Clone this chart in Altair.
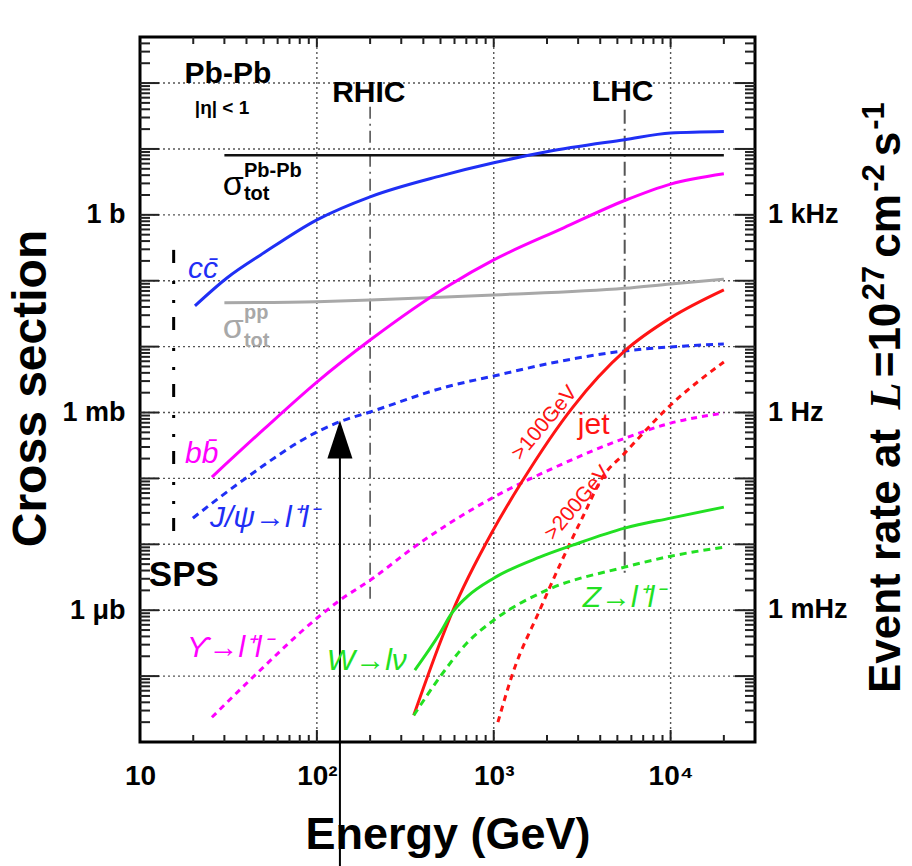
import altair as alt
import pandas as pd

# Plot-area size in pixels
W, H = 615, 705

# ---- curves: collision energy (GeV) and cross section (barn) ----
cc_E = [20.45, 31.0, 50.2, 100, 200, 502, 1000, 1992, 5500, 10000, 20000]
cc_sig = [0.0415, 0.110, 0.265, 0.84, 1.88, 3.91, 6.17, 9.06, 13.8, 17.4, 18.4]

pbpb_E = [30, 20000]
pbpb_sig = [8.0, 8.0]

pp_E = [30, 100, 200, 495, 1000, 5500, 10000, 20000]
pp_sig = [0.0465, 0.0482, 0.0511, 0.0562, 0.061, 0.077, 0.0895, 0.1055]

bb_E = [25.5, 50.2, 100, 200, 564, 1000, 2486, 5500, 10000, 20000]
bb_sig = [1.05e-4, 5.6e-4, 2.9e-3, 0.0126, 0.0864, 0.207, 0.635, 1.65, 2.93, 4.2]

jpsi_E = [19.9, 38.2, 100, 135, 200, 564, 1000, 1992, 5500, 10000, 20000]
jpsi_sig = [2.5e-5, 9.4e-5, 5.05e-4, 7.25e-4, 1.02e-3, 2.53e-3, 3.58e-3, 5.45e-3,
            8.6e-3, 9.9e-3, 0.011]

ups_E = [25.5, 45.8, 100, 135, 200, 367, 564, 1000, 1992, 5500, 10000, 20000]
ups_sig = [2.37e-8, 1.1e-7, 7.55e-7, 1.42e-6, 2.85e-6, 9.7e-6, 2.1e-5, 5.2e-5,
           1.29e-4, 4.06e-4, 6.9e-4, 9.8e-4]

jet100_E = [353, 495, 579, 1000, 1439, 2795, 5500, 10000, 20000]
jet100_sig = [2.54e-8, 3.12e-7, 9.0e-7, 1.7e-5, 8.8e-5, 1.2e-3, 8.6e-3, 0.0273, 0.0726]

jet200_E = [1056, 1280, 1819, 2360, 3184, 4130, 5500, 10000, 20000]
jet200_sig = [2.0e-8, 1.1e-7, 1.0e-6, 4.8e-6, 2.6e-5, 1.05e-4, 2.42e-4, 1.3e-3, 5.85e-3]

w_E = [358, 495, 579, 703, 1000, 1819, 2795, 5500, 10000, 20000]
w_sig = [1.23e-7, 4.42e-7, 9.0e-7, 1.58e-6, 3.06e-6, 6.38e-6, 9.7e-6, 1.76e-5, 2.5e-5, 3.67e-5]

z_E = [353, 495, 703, 1000, 1992, 5500, 10000, 20000]
z_sig = [2.54e-8, 9.6e-8, 3.15e-7, 7.05e-7, 2.01e-6, 4.5e-6, 6.6e-6, 9.05e-6]

# Accelerator energies (GeV) and the span of their marker lines (barn)
acc_names = ["SPS", "RHIC", "LHC"]
acc_E = [15.5, 200, 5500]
acc_top = [0.294, 43.7, 39.4]
acc_bottom = [8.7e-6, 1.42e-6, 3.4e-6]

# Energy pointed at by the arrow and the curve value it reaches
arrow_E = [135]
arrow_sig = [3.89e-4]

# Right-hand scale: event rate at L = 1e27 cm^-2 s^-1 (1 b -> 1 kHz)
rate_sig = [1, 1e-3, 1e-6]
rate_text = ["1 kHz", "1 Hz", "1 mHz"]

FONT = "Liberation Sans"
BLUE, MAGENTA, RED, GREEN, GREY = "#1f2ff5", "#ff00ff", "#ff1414", "#22e022", "#a8a8a8"

xs = alt.Scale(type="log", domain=[10, 30000], nice=False)
ys = alt.Scale(type="log", domain=[1e-8, 500], nice=False)

# Identical axis definitions are given to every layer so that they merge into one
x_axis = alt.Axis(
    orient="bottom", values=[10, 100, 1000, 10000],
    labelExpr="datum.value < 50 ? '10' : datum.value < 500 ? '10²' : datum.value < 5000 ? '10³' : '10⁴'",
    ticks=False, tickSize=0, domain=False, grid=False, labelFlush=False, labelOverlap=False,
    labelPadding=20, labelFont=FONT, labelFontSize=28, labelFontWeight="bold",
    labelColor="black", labelBaseline="top",
    title="Energy (GeV)", titleFont=FONT, titleFontSize=45, titleFontWeight="bold",
    titleColor="black", titleY=106, titleBaseline="alphabetic")

y_axis = alt.Axis(
    orient="left", values=[1, 1e-3, 1e-6],
    labelExpr="datum.value > 0.5 ? '1 b' : datum.value > 5e-4 ? '1 mb' : '1 μb'",
    ticks=False, tickSize=0, domain=False, grid=False, labelOverlap=False,
    labelPadding=15, labelFont=FONT, labelFontSize=27, labelFontWeight="bold",
    labelColor="black", labelBaseline="middle",
    title="Cross section", titleFont=FONT, titleFontSize=48, titleFontWeight="bold",
    titleColor="black", titleAngle=270, titleX=-95, titleY=351,
    titleBaseline="alphabetic", titleAlign="center")


def X(field):
    return alt.X(field, type="quantitative", scale=xs, axis=x_axis)


def Y(field):
    return alt.Y(field, type="quantitative", scale=ys, axis=y_axis)


def curve(E, sig, color, width=3, dash=None):
    kw = dict(interpolate="monotone", color=color, strokeWidth=width, strokeCap="butt")
    if dash:
        kw["strokeDash"] = dash
    return alt.Chart(pd.DataFrame({"E": E, "sig": sig})).mark_line(**kw).encode(
        x=X("E"), y=Y("sig"))


def labels(rows, **mark_kw):
    df = pd.DataFrame(rows, columns=["E", "sig", "t"])
    return alt.Chart(df).mark_text(font=FONT, **mark_kw).encode(
        x=X("E"), y=Y("sig"), text="t:N")


def y_ticks(vals, x0, x1):
    return alt.Chart(pd.DataFrame({"v": vals})).mark_rule(color="#222", strokeWidth=2).encode(
        y=Y("v"), x=alt.value(x0), x2=alt.value(x1))


def x_ticks(vals, y0, y1):
    return alt.Chart(pd.DataFrame({"v": vals})).mark_rule(color="#222", strokeWidth=2).encode(
        x=X("v"), y=alt.value(y0), y2=alt.value(y1))


# decade gridlines and minor log ticks
y_major = [10.0 ** k for k in range(-7, 3)]
y_minor = [m * 10.0 ** k for k in range(-8, 3) for m in range(2, 10) if m * 10.0 ** k < 500]
x_major = [100, 1000, 10000]
x_minor = [m * 10 ** k for k in range(1, 5) for m in range(2, 10) if m * 10 ** k < 30000]

grid_y = alt.Chart(pd.DataFrame({"v": y_major})).mark_rule(
    color="#555", strokeWidth=1.4, strokeDash=[2, 3]).encode(y=Y("v"))
grid_x = alt.Chart(pd.DataFrame({"v": x_major})).mark_rule(
    color="#555", strokeWidth=1.4, strokeDash=[2, 3]).encode(x=X("v"))

acc = pd.DataFrame({"name": acc_names, "E": acc_E, "top": acc_top, "bottom": acc_bottom})


def acc_line(name, color, width, dash):
    return alt.Chart(acc[acc["name"] == name]).mark_rule(
        color=color, strokeWidth=width, strokeDash=dash).encode(
        x=X("E"), y=Y("top"), y2="bottom:Q")


sps = acc_line("SPS", "black", 3, [13, 18, 3, 16, 3, 14])
rhic = acc_line("RHIC", "#555", 1.6, [12, 5, 2, 5])
lhc = acc_line("LHC", "#555", 2, [14, 5, 2, 5])

arrow_df = pd.DataFrame({"E": arrow_E, "sig": arrow_sig})
arrow_shaft = alt.Chart(arrow_df).mark_rule(color="black", strokeWidth=2).encode(
    x=X("E"), y=Y("sig"), y2=alt.value(H + 140))
arrow_head = alt.Chart(arrow_df).mark_point(
    shape="M0,-1L0.66,1L-0.66,1Z", size=1444, filled=True, color="black", opacity=1).encode(
    x=X("E"), y=Y("sig"))

curves = [
    curve(pp_E, pp_sig, GREY, 3),
    curve(pbpb_E, pbpb_sig, "#111", 2.5),
    curve(cc_E, cc_sig, BLUE, 3),
    curve(bb_E, bb_sig, MAGENTA, 3),
    curve(jpsi_E, jpsi_sig, BLUE, 3, [7, 5]),
    curve(ups_E, ups_sig, MAGENTA, 3, [6, 5]),
    curve(jet100_E, jet100_sig, RED, 3),
    curve(jet200_E, jet200_sig, RED, 3, [6, 5]),
    curve(w_E, w_sig, GREEN, 3),
    curve(z_E, z_sig, GREEN, 3, [7, 5]),
]

texts = [
    labels([(31.4, 138.7, "Pb-Pb"), (196.7, 71.3, "RHIC"), (5356, 73.9, "LHC")],
           fontSize=30, fontWeight="bold", color="black", align="center", baseline="middle"),
    labels([(17.7, 3.4e-6, "SPS")], fontSize=35, fontWeight="bold", color="black",
           align="center", baseline="middle"),
    labels([(29.1, 42.2, "|η| < 1")], fontSize=19, fontWeight="bold", color="black",
           align="center", baseline="middle"),
    # total cross sections: sigma with sub- and superscripts
    labels([(29.4, 2.013, "σ")], fontSize=34, color="black", align="left", baseline="alphabetic"),
    labels([(38.7, 1.69, "tot"), (38.7, 3.78, "Pb-Pb")], fontSize=20, fontWeight="bold",
           color="black", align="left", baseline="alphabetic"),
    labels([(29.4, 0.01353, "σ")], fontSize=34, color=GREY, align="left", baseline="alphabetic"),
    labels([(38.7, 0.0263, "pp"), (38.7, 0.00988, "tot")], fontSize=20, fontWeight="bold",
           color=GREY, align="left", baseline="alphabetic"),
    labels([(18.67, 0.1104, "cc\u0304"), (24.86, 1.822e-5, "J/ψ→l⁺l⁻")], fontSize=30,
           fontStyle="italic", color=BLUE, align="left", baseline="alphabetic"),
    labels([(17.96, 1.709e-4, "bb\u0304"), (18.43, 1.93e-7, "ϒ→l⁺l⁻")], fontSize=30,
           fontStyle="italic", color=MAGENTA, align="left", baseline="alphabetic"),
    labels([(113.9, 1.226e-7, "W→lν"), (3183, 1.11e-6, "Z→l⁺l⁻")], fontSize=30,
           fontStyle="italic", color=GREEN, align="left", baseline="alphabetic"),
    labels([(3673, 6.45e-4, "jet")], fontSize=30, color=RED, align="center", baseline="middle"),
    labels([(1941, 6.92e-4, ">100GeV"), (2983, 4.22e-5, ">200GeV")], fontSize=21, color=RED,
           align="center", baseline="middle", angle=310),
]

# right-hand rate scale labels
rate_labels = alt.Chart(pd.DataFrame({"sig": rate_sig, "t": rate_text})).mark_text(
    font=FONT, fontSize=27, fontWeight="bold", color="black", align="left", baseline="middle").encode(
    y=Y("sig"), x=alt.value(W + 13), text="t:N")


# right-hand axis title, set piece by piece so the exponents can be raised
def vtext(txt, xpos, ypos, size, font=FONT, **kw):
    return alt.Chart(pd.DataFrame({"t": [txt]})).mark_text(
        font=font, fontSize=size, fontWeight="bold", color="black", angle=270,
        align="center", baseline="alphabetic", **kw).encode(
        x=alt.value(xpos), y=alt.value(ypos - 37), text="t:N")


BASE_X, SUP_X = W + 145, W + 129
right_title = [
    vtext("Event rate at", BASE_X, 561, 44),
    vtext("L", BASE_X, 396, 44, font="Liberation Serif", fontStyle="italic"),
    vtext("=10", BASE_X, 340, 44),
    vtext("27", SUP_X, 283, 31),
    vtext("cm", BASE_X, 226, 44),
    vtext("-2", SUP_X, 178, 31),
    vtext("s", BASE_X, 144, 44),
    vtext("-1", SUP_X, 116, 31),
]

ticks = [
    y_ticks(y_major, 0, 19),
    y_ticks(y_minor, 0, 10),
    y_ticks(y_major, W - 20, W),
    y_ticks(y_minor, W - 10, W),
    x_ticks(x_major, H, H - 12),
    x_ticks(x_minor, H, H - 7),
    x_ticks(x_major, 0, 10),
    x_ticks(x_minor, 0, 7),
]

chart = alt.layer(
    grid_x, grid_y, sps, rhic, lhc, *curves, arrow_shaft, arrow_head, *texts,
    rate_labels, *right_title, *ticks
).properties(
    width=W, height=H,
    autosize=alt.AutoSizeParams(type="none"),
    padding={"left": 140, "top": 37, "right": 157, "bottom": 124},
    background="white",
).configure(font=FONT).configure_view(stroke="black", strokeWidth=3)

chart.save("out.html", embed_options={"renderer": "svg", "actions": False})
